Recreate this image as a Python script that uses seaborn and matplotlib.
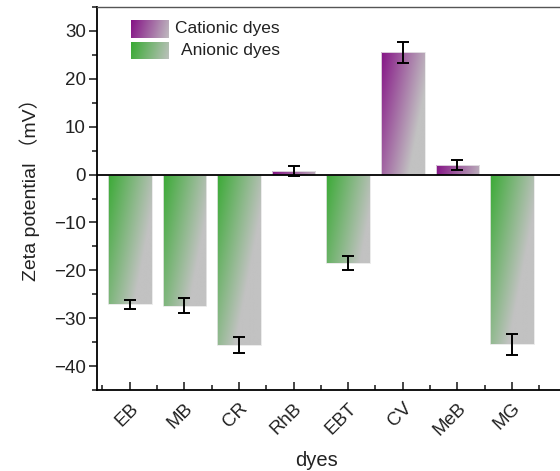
import numpy as np
import pandas as pd
import matplotlib
matplotlib.use("Agg")
import matplotlib.pyplot as plt
import seaborn as sns
from matplotlib.ticker import MultipleLocator, FixedLocator
from matplotlib.colors import to_rgb

dyes = ["EB", "MB", "CR", "RhB", "EBT", "CV", "MeB", "MG"]
zeta = [-27.1, -27.4, -35.6, 0.7, -18.5, 25.5, 2.0, -35.4]
err = [1.0, 1.6, 1.7, 1.1, 1.5, 2.1, 1.05, 2.2]
kind = ["Anionic", "Anionic", "Anionic", "Cationic", "Anionic", "Cationic", "Cationic", "Anionic"]

GREEN = "#3aaa35"
PURPLE = "#851486"
GREY = "#c2c2c2"

sns.set_style("ticks")
plt.rcParams["font.family"] = ["Liberation Sans", "Noto Sans CJK SC", "DejaVu Sans"]

df = pd.DataFrame({"dye": dyes, "zeta": zeta, "err": err, "kind": kind})

fig = plt.figure(figsize=(5.6, 4.71), dpi=100)
ax = fig.add_axes([97/560, 1-390/471, 469.6/560, 383/471])

sns.barplot(data=df, x="dye", y="zeta", ax=ax, color="white", width=0.8,
            errorbar=None, edgecolor="none", linewidth=0)
ax.errorbar(np.arange(len(dyes)), df["zeta"], yerr=df["err"], fmt="none",
            ecolor="black", elinewidth=1.4, capsize=4, capthick=1.4, zorder=5)


def grad_img(c0, c1, n=160, m=60, wu=0.85, wv=0.45):
    a = np.array(to_rgb(c0)); b = np.array(to_rgb(c1))
    v = np.linspace(0, 1, n)[:, None]
    u = np.linspace(0, 1, m)[None, :]
    t = wu * u + wv * v
    t = np.clip(t, 0, 1)[..., None]
    return a * (1 - t) + b * t


for p, k in zip(ax.patches, kind):
    x0, y0 = p.get_x(), p.get_y()
    w, h = p.get_width(), p.get_height()
    ylo, yhi = min(y0, y0 + h), max(y0, y0 + h)
    c0 = PURPLE if k == "Cationic" else GREEN
    # gradient fixed in pixel space: vertical weight grows with bar height
    img = grad_img(c0, GREY, wv=0.018 * abs(h))
    im = ax.imshow(img, extent=[x0, x0 + w, ylo, yhi], origin="upper",
                   aspect="auto", zorder=2, interpolation="bilinear")
    im.set_clip_path(p)
    p.set_facecolor("none")
    p.set_edgecolor("#e8e8e8")
    p.set_linewidth(0.6)
    p.set_zorder(3)

ax.axhline(0, color="black", lw=1.3, zorder=4)

# legend (gradient swatches)
L, W = 97, 469.6
B, H = 390, 383
def axc(px, py):
    return (px - L) / W, (B - py) / H
for (lab, c0, py0, py1, tx) in [("Cationic dyes", PURPLE, 20, 38, 175),
                                 ("Anionic dyes", GREEN, 42, 59, 181)]:
    xa0, ya1 = axc(131, py0)
    xa1, ya0 = axc(169, py1)
    ax.imshow(grad_img(c0, GREY, 20, 40, 0.85, 0.1), extent=[xa0, xa1, ya0, ya1],
              transform=ax.transAxes, aspect="auto", origin="upper", zorder=6)
    xt, yt = axc(tx, (py0 + py1) / 2)
    ax.text(xt, yt, lab, transform=ax.transAxes, fontsize=12.5,
            va="center", ha="left", color="#222222")

ax.set_xlim(-0.6, 8.0)
ax.set_ylim(-45, 35)

ax.yaxis.set_major_locator(MultipleLocator(10))
ax.yaxis.set_minor_locator(MultipleLocator(5))
ax.xaxis.set_minor_locator(FixedLocator(np.arange(-0.5, 8.0, 1.0)))
ax.tick_params(axis="y", which="major", direction="out", length=6, width=1.2,
               labelsize=13.5, pad=2, labelcolor="#222222")
ax.tick_params(axis="y", which="minor", direction="out", length=3.5, width=1.2)
ax.tick_params(axis="x", which="major", direction="in", length=6, width=1.2,
               labelsize=13.5, pad=7, labelcolor="#222222")
ax.tick_params(axis="x", which="minor", direction="in", length=3.5, width=1.2)
ax.set_xticks(range(len(dyes)))
ax.set_xticklabels(dyes, rotation=45, ha="right", rotation_mode="anchor")
for s in ["left", "bottom"]:
    ax.spines[s].set_linewidth(1.3)
    ax.spines[s].set_color("black")
ax.spines["top"].set_visible(True)
ax.spines["top"].set_color("#555555")
ax.spines["top"].set_linewidth(1.0)
ax.spines["right"].set_visible(True)
ax.spines["right"].set_color("#555555")

ax.set_xlabel("dyes", fontsize=14.5, color="#222222")
ax.set_ylabel("Zeta potential （mV）", fontsize=14, color="#222222")
ax.xaxis.set_label_coords((316 - L) / W, (B - 460) / H)
ax.yaxis.set_label_coords((30 - L) / W, (B - 185) / H)
ax.xaxis.label.set_va("center")
ax.yaxis.label.set_va("center")

fig.savefig("out.png", dpi=100)
